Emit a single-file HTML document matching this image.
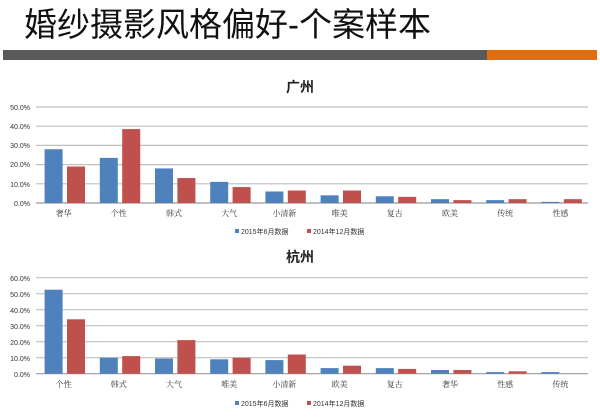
<!DOCTYPE html><html><head><meta charset="utf-8"><style>body{margin:0;background:#fff;width:600px;height:412px;overflow:hidden}</style></head><body>
<svg width="600" height="412" xmlns="http://www.w3.org/2000/svg" font-family="Liberation Sans, Noto Sans CJK SC, sans-serif">
<text x="24" y="36" font-size="33" fill="#111" font-family="Liberation Sans, Noto Sans CJK SC, sans-serif">婚纱摄影风格偏好-个案样本</text>
<rect x="3" y="50" width="484" height="10" fill="#5a5a5a"/>
<rect x="487" y="50" width="110" height="10" fill="#e46c0a"/>
<g id="c1">
<text x="300" y="92" font-size="14" font-weight="bold" text-anchor="middle" fill="#222">广州</text>
<g stroke="#c0c0c0" stroke-width="1.2">
<line x1="36" x2="588" y1="107" y2="107"/><line x1="36" x2="588" y1="126.2" y2="126.2"/><line x1="36" x2="588" y1="145.4" y2="145.4"/><line x1="36" x2="588" y1="164.6" y2="164.6"/><line x1="36" x2="588" y1="183.8" y2="183.8"/><line x1="36" x2="588" y1="203" y2="203" stroke="#999"/>
</g>
<g font-size="7" fill="#333" text-anchor="end">
<text x="30" y="110">50.0%</text><text x="30" y="129">40.0%</text><text x="30" y="148">30.0%</text><text x="30" y="167">20.0%</text><text x="30" y="187">10.0%</text><text x="30" y="206">0.0%</text>
</g>
</g>
<g id="c2">
<text x="300" y="262" font-size="14" font-weight="bold" text-anchor="middle" fill="#222">杭州</text>
<g stroke="#c0c0c0" stroke-width="1.2">
<line x1="36" x2="588" y1="277.7" y2="277.7"/><line x1="36" x2="588" y1="293.7" y2="293.7"/><line x1="36" x2="588" y1="309.7" y2="309.7"/><line x1="36" x2="588" y1="325.7" y2="325.7"/><line x1="36" x2="588" y1="341.7" y2="341.7"/><line x1="36" x2="588" y1="357.7" y2="357.7"/><line x1="36" x2="588" y1="373.7" y2="373.7" stroke="#999"/>
</g>
<g font-size="7" fill="#333" text-anchor="end">
<text x="30" y="281">60.0%</text><text x="30" y="297">50.0%</text><text x="30" y="313">40.0%</text><text x="30" y="329">30.0%</text><text x="30" y="345">20.0%</text><text x="30" y="361">10.0%</text><text x="30" y="377">0.0%</text>
</g>
</g>
<g id="bars"></g>
<g font-size="7" fill="#333">
<rect x="235" y="229" width="4" height="4" fill="#4f81bd"/><text x="241" y="234">2015年6月数据</text>
<rect x="307" y="229" width="4" height="4" fill="#c0504d"/><text x="313" y="234">2014年12月数据</text>
<rect x="235" y="401" width="4" height="4" fill="#4f81bd"/><text x="241" y="406">2015年6月数据</text>
<rect x="307" y="401" width="4" height="4" fill="#c0504d"/><text x="313" y="406">2014年12月数据</text>
</g>
<script>
var ns="http://www.w3.org/2000/svg",g=document.getElementById("bars");
function chart(base,scale,labels,b,r,ly){
 for(var i=0;i<10;i++){
  var x0=36+i*55.2;
  [[b[i],"#4f81bd",8.6],[r[i],"#c0504d",31]].forEach(function(d){
   var h=d[0]*scale,e=document.createElementNS(ns,"rect");
   e.setAttribute("x",x0+d[2]);e.setAttribute("width",18);e.setAttribute("y",base-h);e.setAttribute("height",h);e.setAttribute("fill",d[1]);g.appendChild(e);});
  var t=document.createElementNS(ns,"text");t.setAttribute("x",x0+27.6);t.setAttribute("y",ly);t.setAttribute("font-size","8");t.setAttribute("fill","#333");t.setAttribute("text-anchor","middle");t.setAttribute("font-family","Noto Serif CJK SC, serif");t.textContent=labels[i];g.appendChild(t);
 }}
chart(203,1.92,["奢华","个性","韩式","大气","小清新","唯美","复古","欧美","传统","性感"],[28,23.5,18,11,6,4,3.5,2,1.5,0.6],[19,38.5,13,8.3,6.5,6.5,3.2,1.5,2,2],216);
chart(373.7,1.6,["个性","韩式","大气","唯美","小清新","欧美","复古","奢华","性感","传统"],[52.5,10,9.5,9,8.5,3.5,3.5,2.3,1,1],[34,11,21,10,12,5,3,2.3,1.5,0],387);
</script>
</svg></body></html>
